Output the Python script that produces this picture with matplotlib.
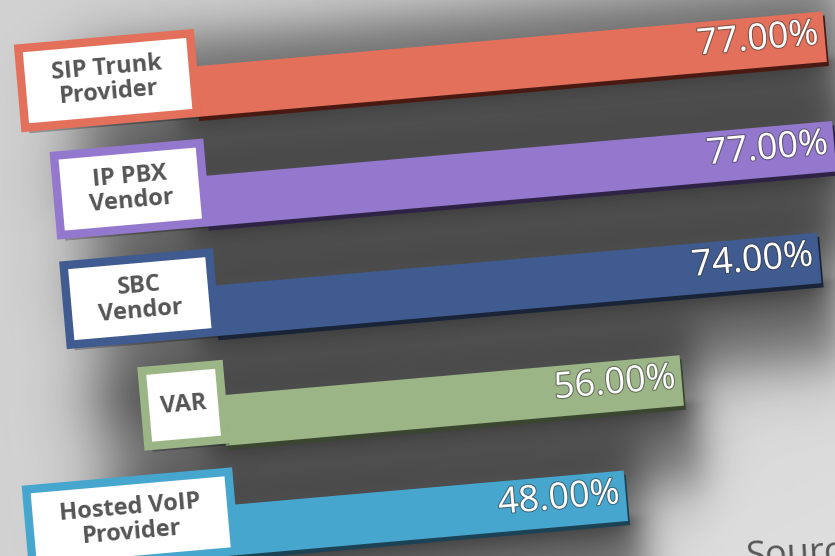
import numpy as np
import matplotlib
matplotlib.use("Agg")
import matplotlib.pyplot as plt
from matplotlib.transforms import Affine2D
import matplotlib.patheffects as pe

# ---- data ----
categories = ["SIP Trunk\nProvider", "IP PBX\nVendor", "SBC\nVendor", "VAR", "Hosted VoIP\nProvider"]
values = [77.0, 77.0, 74.0, 56.0, 48.0]
value_labels = ["77.00%", "77.00%", "74.00%", "56.00%", "48.00%"]
colors = ["#E2705B", "#9478CD", "#3F5B8F", "#9CB586", "#47A6CE"]
edge_colors = ["#4a1a12", "#2e2245", "#1a2438", "#3a4630", "#1c4255"]
source_text = "Source"

W, H = 835, 556
PX_PER_UNIT = 8.21
XMIN = -212 / PX_PER_UNIT
XMAX = XMIN + W / PX_PER_UNIT
YMIN, YMAX = -0.664, 4.39

fig = plt.figure(figsize=(W / 100, H / 100), dpi=100)
fig.patch.set_facecolor("#cccccc")

# background gradient
bg = fig.add_axes([0, 0, 1, 1])
bg.axis("off")
yy, xx = np.mgrid[0:1:200j, 0:1:300j]
g = 0.80 + 0.07 * xx * (1 - yy) + 0.02 * (1 - xx)
bg.imshow(g, cmap="gray", vmin=0, vmax=1, extent=[0, 1, 0, 1], aspect="auto", origin="lower")
bg.set_xlim(0, 1)
bg.set_ylim(0, 1)

ax = fig.add_axes([0, 0, 1, 1])
ax.axis("off")
ax.patch.set_alpha(0)
rot = Affine2D().rotate_deg_around(W / 2, H / 2, 5)
trans = ax.transData + rot
ypos = np.arange(len(categories))


def sig(z):
    return 1.0 / (1.0 + np.exp(-z))


# soft shadow layer computed from the bars
gx = np.linspace(-45, 105, 900)
gy = np.linspace(-1.5, 5.5, 500)
GX, GY = np.meshgrid(gx, gy)
keep = np.ones_like(GX)
for i, v in zip(ypos, values):
    hx = sig((GX + 14) / 2.5) * sig(((v + 2.0) - GX) / 1.4)
    vy = sig((GY - (i - 0.5)) / 0.14) * sig(((i + 0.95) - GY) / 0.16)
    a = 0.48 * hx * vy
    near = sig((GY - (i + 0.2)) / 0.02) * np.exp(-np.clip(GY - (i + 0.23), 0, None) / 0.22)
    hx2 = sig((GX + 2) / 1.0) * sig(((v + 1.0) - GX) / 0.8)
    a = a + 0.22 * near * hx2
    keep *= (1 - np.clip(a, 0, 0.9))
alpha = 1 - keep
rgba = np.zeros(GX.shape + (4,))
rgba[..., 3] = alpha
im = ax.imshow(rgba, extent=[gx[0], gx[-1], gy[0], gy[-1]], origin="lower",
               interpolation="bilinear", aspect="auto")
im.set_transform(trans)
im.set_clip_on(False)

# bars
bars = ax.barh(ypos, values, height=0.46, color=colors, linewidth=0)
for p, ec in zip(bars, edge_colors):
    p.set_transform(trans)
    p.set_clip_on(False)
    p.set_path_effects([pe.SimplePatchShadow(offset=(1.5, -3), shadow_rgbFace=ec, alpha=1.0),
                        pe.Normal()])

# value labels
for yv, v, lab in zip(ypos, values, value_labels):
    t = ax.text(v - 0.7, yv - 0.02, lab, transform=trans, rotation=5, rotation_mode="anchor",
                ha="right", va="center", fontsize=26, color="white", family="Open Sans",
                clip_on=False)
    t.set_path_effects([pe.withStroke(linewidth=1.6, foreground="#3a3a3a", alpha=0.55)])

# category labels in boxes
FS = 17
fs_px = FS * 100 / 72
for yv, cat, c in zip(ypos, categories, colors):
    two = "\n" in cat
    pad = 1.3 if two else 0.66
    aspect = 0.5 if two else 1.65
    anchor_x = 0.5 - (pad * fs_px + 4) / PX_PER_UNIT
    t = ax.text(anchor_x, yv - 0.17, cat, transform=trans, rotation=5, rotation_mode="anchor",
                ha="right", va="center", multialignment="center", fontsize=FS,
                fontweight="bold", color="#555555", family="Open Sans", linespacing=1.05,
                clip_on=False,
                bbox=dict(boxstyle=f"square,pad={pad}", fc="white", ec=c, lw=6,
                          mutation_aspect=aspect))
    t.get_bbox_patch().set_path_effects([
        pe.SimplePatchShadow(offset=(3, -4), shadow_rgbFace="black", alpha=0.25), pe.Normal()])

ax.set_xlim(XMIN, XMAX)
ax.set_ylim(YMAX, YMIN)

fig.text(745 / W, 1 - 540 / H, source_text, ha="left", va="top", fontsize=26,
         color="#555555", family="Open Sans", rotation=3, rotation_mode="anchor")

fig.savefig("out.png", dpi=100, facecolor=fig.get_facecolor())
